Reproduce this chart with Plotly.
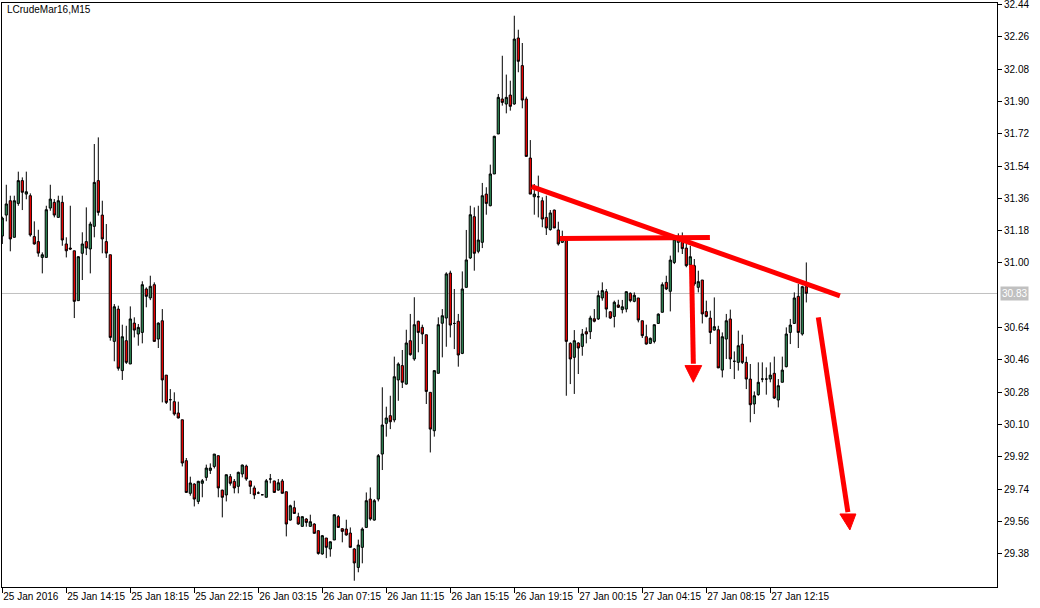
import plotly.graph_objects as go

# ---- data ----
opens = [31.15, 31.267, 31.347, 31.143, 31.332, 31.459, 31.384, 31.375, 31.147, 31.119,
         31.031, 31.031, 31.306, 31.338, 31.254, 31.338, 31.106, 31.083, 31.068, 30.790,
         31.054, 31.119, 31.078, 31.204, 31.459, 31.267, 31.119, 31.046, 30.563, 30.743,
         30.400, 30.567, 30.437, 30.665, 30.604, 30.613, 30.855, 30.805, 30.879, 30.576,
         30.678, 30.375, 30.238, 30.227, 30.164, 30.126, 29.898, 29.716, 29.768, 29.671,
         29.772, 29.805, 29.844, 29.866, 29.926, 29.734, 29.707, 29.809, 29.783, 29.755,
         29.824, 29.868, 29.785, 29.746, 29.718, 29.708, 29.694, 29.796, 29.785, 29.734,
         29.785, 29.725, 29.567, 29.636, 29.586, 29.532, 29.573, 29.532, 29.545, 29.508,
         29.378, 29.467, 29.406, 29.456, 29.586, 29.519, 29.517, 29.495, 29.406, 29.303,
         29.415, 29.526, 29.684, 29.567, 29.684, 29.935, 30.106, 30.149, 30.125, 30.348,
         30.428, 30.325, 30.567, 30.465, 30.675, 30.641, 30.600, 30.279, 30.065, 30.385,
         30.664, 30.693, 30.944, 30.663, 30.675, 30.496, 30.864, 31.028, 31.258, 31.065,
         31.115, 31.384, 31.319, 31.496, 31.719, 31.914, 31.886, 31.936, 31.886, 32.254,
         32.100, 31.914, 31.585, 31.369, 31.369, 31.347, 31.254, 31.186, 31.295, 31.184,
         31.115, 31.143, 30.552, 30.474, 30.554, 30.535, 30.617, 30.617, 30.689, 30.688,
         30.805, 30.840, 30.728, 30.702, 30.766, 30.740, 30.743, 30.831, 30.786, 30.805,
         30.678, 30.589, 30.552, 30.563, 30.663, 30.725, 30.892, 30.842, 31.003, 31.115,
         31.143, 31.083, 30.989, 30.985, 30.864, 30.905, 30.729, 30.693, 30.626, 30.628,
         30.403, 30.576, 30.688, 30.452, 30.446, 30.548, 30.446, 30.353, 30.214, 30.266,
         30.353, 30.353, 30.353, 30.385, 30.236, 30.335, 30.422, 30.613, 30.663, 30.814,
         30.604, 30.868]
highs = [31.258, 31.436, 31.375, 31.375, 31.509, 31.477, 31.509, 31.388, 31.232, 31.185,
         31.059, 31.319, 31.436, 31.356, 31.375, 31.375, 31.143, 31.319, 31.068, 31.037,
         31.171, 31.310, 31.230, 31.663, 31.700, 31.347, 31.217, 31.046, 30.771, 30.762,
         30.656, 30.650, 30.758, 30.697, 30.660, 30.898, 30.864, 30.929, 30.892, 30.669,
         30.743, 30.375, 30.297, 30.279, 30.227, 30.126, 29.913, 29.809, 29.772, 29.786,
         29.796, 29.876, 29.883, 29.935, 29.926, 29.736, 29.820, 29.824, 29.796, 29.837,
         29.876, 29.876, 29.786, 29.759, 29.727, 29.708, 29.796, 29.824, 29.786, 29.796,
         29.796, 29.725, 29.653, 29.675, 29.608, 29.588, 29.578, 29.597, 29.549, 29.508,
         29.484, 29.467, 29.448, 29.597, 29.595, 29.521, 29.569, 29.526, 29.411, 29.458,
         29.526, 29.721, 29.749, 29.684, 29.935, 30.307, 30.199, 30.260, 30.478, 30.446,
         30.515, 30.628, 30.716, 30.809, 30.678, 30.656, 30.600, 30.279, 30.400, 30.697,
         30.743, 30.948, 30.957, 30.855, 30.716, 30.953, 31.184, 31.319, 31.310, 31.319,
         31.446, 31.422, 31.548, 31.709, 31.942, 32.155, 32.050, 32.016, 32.378, 32.300,
         32.226, 31.927, 31.685, 31.440, 31.487, 31.366, 31.375, 31.295, 31.297, 31.230,
         31.180, 31.143, 30.558, 30.626, 30.558, 30.632, 30.641, 30.706, 30.743, 30.846,
         30.892, 30.855, 30.730, 30.790, 30.795, 30.794, 30.842, 30.836, 30.836, 30.805,
         30.678, 30.656, 30.585, 30.656, 30.719, 30.892, 30.929, 31.041, 31.152, 31.165,
         31.170, 31.106, 31.096, 31.022, 30.957, 30.905, 30.790, 30.734, 30.808, 30.650,
         30.613, 30.716, 30.740, 30.507, 30.623, 30.600, 30.478, 30.437, 30.284, 30.446,
         30.446, 30.418, 30.446, 30.478, 30.353, 30.478, 30.641, 30.688, 30.836, 30.883,
         30.873, 31.003]
lows = [31.106, 31.232, 31.065, 31.143, 31.319, 31.295, 31.355, 31.147, 31.102, 31.035,
        30.942, 31.031, 31.291, 31.254, 31.254, 31.096, 31.031, 31.072, 30.693, 30.790,
        30.905, 31.044, 30.942, 31.143, 31.264, 31.054, 31.028, 30.567, 30.452, 30.400,
        30.348, 30.437, 30.437, 30.585, 30.539, 30.552, 30.753, 30.793, 30.563, 30.526,
        30.223, 30.214, 30.177, 30.149, 30.134, 29.866, 29.721, 29.703, 29.643, 29.656,
        29.694, 29.786, 29.824, 29.855, 29.694, 29.582, 29.671, 29.759, 29.716, 29.716,
        29.805, 29.786, 29.712, 29.684, 29.712, 29.708, 29.694, 29.772, 29.721, 29.731,
        29.716, 29.476, 29.564, 29.604, 29.541, 29.530, 29.530, 29.530, 29.493, 29.374,
        29.374, 29.355, 29.363, 29.456, 29.526, 29.443, 29.480, 29.415, 29.229, 29.276,
        29.326, 29.526, 29.564, 29.564, 29.671, 29.846, 30.032, 30.074, 30.112, 30.232,
        30.303, 30.322, 30.483, 30.455, 30.502, 30.548, 30.214, 29.944, 30.032, 30.385,
        30.474, 30.533, 30.585, 30.520, 30.422, 30.492, 30.864, 31.022, 30.957, 31.054,
        31.083, 31.269, 31.316, 31.496, 31.719, 31.877, 31.834, 31.849, 31.882, 32.063,
        31.862, 31.594, 31.384, 31.269, 31.254, 31.199, 31.156, 31.180, 31.195, 31.097,
        31.111, 30.260, 30.325, 30.270, 30.381, 30.483, 30.552, 30.576, 30.669, 30.682,
        30.790, 30.697, 30.688, 30.641, 30.749, 30.719, 30.725, 30.781, 30.781, 30.669,
        30.582, 30.545, 30.548, 30.552, 30.660, 30.725, 30.849, 30.730, 30.994, 31.059,
        31.050, 30.976, 30.960, 30.873, 30.836, 30.663, 30.697, 30.548, 30.623, 30.415,
        30.362, 30.465, 30.409, 30.353, 30.400, 30.437, 30.297, 30.112, 30.158, 30.260,
        30.335, 30.266, 30.335, 30.242, 30.195, 30.335, 30.418, 30.548, 30.660, 30.526,
        30.595, 30.780]
closes = [31.25, 31.329, 31.134, 31.347, 31.459, 31.394, 31.397, 31.156, 31.106, 31.055,
          31.046, 31.297, 31.356, 31.267, 31.347, 31.128, 31.068, 31.078, 30.786, 31.035,
          31.106, 31.083, 31.217, 31.449, 31.282, 31.134, 31.055, 30.585, 30.756, 30.413,
          30.589, 30.446, 30.688, 30.626, 30.641, 30.879, 30.814, 30.870, 30.563, 30.665,
          30.348, 30.223, 30.238, 30.158, 30.136, 29.885, 29.721, 29.774, 29.684, 29.783,
          29.786, 29.857, 29.857, 29.935, 29.746, 29.694, 29.820, 29.772, 29.746, 29.833,
          29.874, 29.796, 29.755, 29.707, 29.718, 29.708, 29.786, 29.796, 29.721, 29.775,
          29.716, 29.545, 29.647, 29.604, 29.545, 29.586, 29.554, 29.558, 29.493, 29.381,
          29.480, 29.415, 29.446, 29.597, 29.526, 29.504, 29.484, 29.415, 29.328, 29.428,
          29.517, 29.675, 29.573, 29.675, 29.926, 30.097, 30.136, 30.115, 30.366, 30.437,
          30.335, 30.554, 30.489, 30.656, 30.613, 30.604, 30.284, 30.074, 30.400, 30.656,
          30.706, 30.939, 30.654, 30.663, 30.487, 30.855, 31.017, 31.269, 31.054, 31.128,
          31.375, 31.332, 31.496, 31.706, 31.923, 31.895, 31.923, 31.873, 32.248, 32.124,
          31.908, 31.594, 31.384, 31.384, 31.369, 31.245, 31.195, 31.279, 31.195, 31.106,
          31.134, 30.563, 30.465, 30.567, 30.526, 30.604, 30.604, 30.693, 30.675, 30.818,
          30.846, 30.743, 30.693, 30.781, 30.753, 30.756, 30.840, 30.790, 30.820, 30.682,
          30.595, 30.548, 30.580, 30.656, 30.715, 30.879, 30.855, 31.016, 31.133, 31.143,
          31.080, 30.985, 31.035, 30.883, 30.896, 30.716, 30.702, 30.613, 30.645, 30.415,
          30.589, 30.678, 30.465, 30.452, 30.539, 30.446, 30.353, 30.210, 30.260, 30.335,
          30.353, 30.353, 30.375, 30.247, 30.316, 30.403, 30.604, 30.654, 30.805, 30.613,
          30.868, 30.831]

bar_index = list(range(len(opens)))

time_labels = ["25 Jan 2016", "25 Jan 14:15", "25 Jan 18:15", "25 Jan 22:15",
               "26 Jan 03:15", "26 Jan 07:15", "26 Jan 11:15", "26 Jan 15:15",
               "26 Jan 19:15", "27 Jan 00:15", "27 Jan 04:15", "27 Jan 08:15",
               "27 Jan 12:15"]
bars_per_label = 16
# (the 30.82 label sits under the current-price box and is not shown)
price_ticks = [29.38, 29.56, 29.74, 29.92, 30.10, 30.28, 30.46, 30.64,
               31.00, 31.18, 31.36, 31.54, 31.72, 31.90, 32.08, 32.26, 32.44]
current_price = 30.83
title_text = "LCrudeMar16,M15"

# hand-drawn objects on the chart: (bar0, price0, bar1, price1)
drawn_lines = [
    (132.35, 31.426, 209.4, 30.817),
    (139.4, 31.137, 176.9, 31.142),
]
# arrows: shaft start, head base left, head base right, tip
drawn_arrows = [
    dict(start=(172.3, 30.99), left=(170.67, 30.428), right=(174.85, 30.428), tip=(172.75, 30.335)),
    dict(start=(204.0, 30.697), left=(209.4, 29.601), right=(213.4, 29.601), tip=(211.9, 29.512)),
]

# ---- figure ----
FONT = "Liberation Sans, Arial, sans-serif"
fig = go.Figure()
fig.add_trace(go.Candlestick(
    x=bar_index, open=opens, high=highs, low=lows, close=closes,
    increasing=dict(line=dict(color="black", width=1), fillcolor="#2E8B57"),
    decreasing=dict(line=dict(color="black", width=1), fillcolor="#FF0000"),
    whiskerwidth=0, showlegend=False, hoverinfo="skip",
))

shapes = [dict(type="line", xref="paper", yref="y", x0=0, x1=1,
               y0=current_price, y1=current_price,
               line=dict(color="#C0C0C0", width=1), layer="below")]
for (xa, ya, xb, yb) in drawn_lines:
    shapes.append(dict(type="line", xref="x", yref="y", x0=xa, y0=ya, x1=xb, y1=yb,
                       line=dict(color="#FF0000", width=5)))
for a in drawn_arrows:
    bx = (a["left"][0] + a["right"][0]) / 2
    by = a["left"][1]
    shapes.append(dict(type="line", xref="x", yref="y", x0=a["start"][0], y0=a["start"][1],
                       x1=bx, y1=by + 0.01, line=dict(color="#FF0000", width=5)))
    path = "M {},{} L {},{} L {},{} Z".format(a["left"][0], a["left"][1],
                                              a["right"][0], a["right"][1],
                                              a["tip"][0], a["tip"][1])
    shapes.append(dict(type="path", xref="x", yref="y", path=path,
                       fillcolor="#FF0000", line=dict(color="#FF0000", width=1)))

annotations = [
    dict(text=title_text, xref="paper", yref="paper", x=0.003, y=1.0, yshift=1,
         xanchor="left", yanchor="top", showarrow=False,
         font=dict(family=FONT, size=10, color="black")),
    dict(text=f"{current_price:.2f}", xref="paper", yref="y", x=1, y=current_price,
         xanchor="left", yanchor="middle", xshift=3, showarrow=False,
         bgcolor="#C0C0C0", borderpad=1,
         font=dict(family=FONT, size=10, color="white")),
]

fig.update_layout(
    width=1040, height=608,
    margin=dict(l=2, r=43, t=3, b=21, autoexpand=False),
    paper_bgcolor="white", plot_bgcolor="white",
    boxgap=0.45, boxgroupgap=0,
    hovermode=False,
    shapes=shapes, annotations=annotations,
    font=dict(family=FONT, size=10, color="black"),
    xaxis=dict(
        range=[-0.075, 248.675], rangeslider=dict(visible=False),
        showgrid=False, zeroline=False, showline=True, linecolor="black", linewidth=1,
        mirror=True, ticks="outside", ticklen=5, tickcolor="black",
        tickvals=[i * bars_per_label for i in range(len(time_labels))],
        ticktext=time_labels, ticklabelposition="outside right", tickangle=0,
        automargin=False, ticklabeloverflow="allow",
        tickfont=dict(family=FONT, size=10, color="black"), fixedrange=True,
    ),
    yaxis=dict(
        range=[29.194, 32.449], side="right",
        showgrid=False, zeroline=False, showline=True, linecolor="black", linewidth=1,
        mirror=True, ticks="outside", ticklen=4, tickcolor="black",
        tickvals=price_ticks, ticktext=[f"{v:.2f}" for v in price_ticks],
        automargin=False, ticklabeloverflow="allow",
        tickfont=dict(family=FONT, size=10, color="black"), fixedrange=True,
    ),
)

fig.write_html("out.html", config=dict(displayModeBar=False),
               post_script="document.body.style.margin='0';document.body.style.overflow='hidden';")
